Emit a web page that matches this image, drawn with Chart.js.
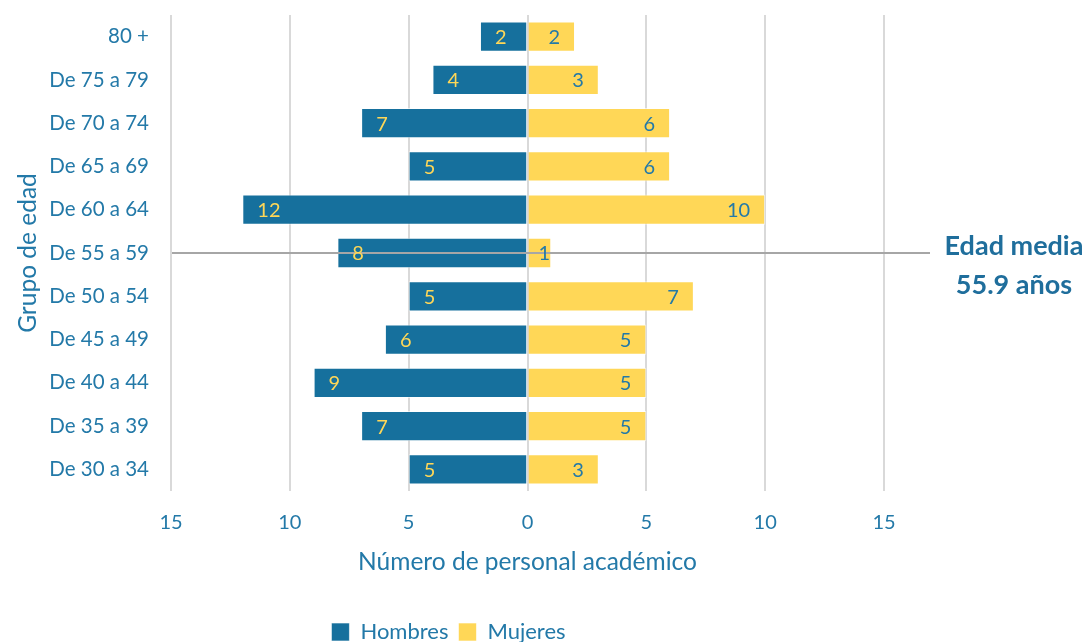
<!DOCTYPE html>
<html><head><meta charset="utf-8">
<script src="https://cdn.jsdelivr.net/npm/chart.js@4/dist/chart.umd.min.js"></script>
<style>html,body{margin:0;padding:0;background:#fff}#wrap{width:1089px;height:642px}</style>
</head><body><div id="wrap"><canvas id="c"></canvas></div>
<script>
const categories = ['80 +','De 75 a 79','De 70 a 74','De 65 a 69','De 60 a 64','De 55 a 59','De 50 a 54','De 45 a 49','De 40 a 44','De 35 a 39','De 30 a 34'];
const hombres = [2,4,7,5,12,8,5,6,9,7,5];
const mujeres = [2,3,6,6,10,1,7,5,5,5,3];
const meanCategory = 'De 55 a 59';
const meanText = ['Edad media','55.9 años'];
const xTicks = [-15,-10,-5,0,5,10,15];

const BLUE='#16709d', YELLOW='#ffd757', TXT='#2379a8', FONT='Lato, "Open Sans", sans-serif';

const overlay = {
  id:'overlay',
  afterDatasetsDraw(chart){
    const ctx=chart.ctx, x=chart.scales.x, y=chart.scales.y;
    ctx.save();
    const yy = Math.round(y.getPixelForValue(categories.indexOf(meanCategory)));
    ctx.strokeStyle='#a6a6a6'; ctx.lineWidth=2;
    ctx.beginPath(); ctx.moveTo(x.getPixelForValue(-15)+1, yy); ctx.lineTo(930, yy); ctx.stroke();
    ctx.font='20px '+FONT; ctx.textBaseline='middle';
    chart.data.datasets.forEach((ds,di)=>{
      const meta=chart.getDatasetMeta(di);
      meta.data.forEach((bar,i)=>{
        const v=Math.abs(ds.data[i]); const t=String(v);
        const tw=ctx.measureText(t).width; const pad=15;
        const x0=x.getPixelForValue(0), xe=bar.x;
        const w=Math.abs(xe-x0);
        ctx.fillStyle = di===0 ? YELLOW : TXT;
        if (w < tw + 2*pad) { ctx.textAlign='center'; ctx.fillText(t,(x0+xe)/2 + (di===0?0:5),bar.y+1); }
        else if (di===0){ ctx.textAlign='left'; ctx.fillText(t, xe+pad, bar.y+1); }
        else { ctx.textAlign='right'; ctx.fillText(t, xe-pad, bar.y+1); }
      });
    });
    ctx.fillStyle='#1f6e9c'; ctx.font='bold 27px '+FONT; ctx.textAlign='center';
    ctx.fillText(meanText[0], 1014, 246);
    ctx.fillText(meanText[1], 1014, 285);
    ctx.restore();
  }
};

new Chart(document.getElementById('c'), {
  type:'bar',
  data:{ labels:categories, datasets:[
    {label:'Hombres', data:hombres.map(v=>-v), backgroundColor:BLUE, borderColor:'rgba(255,255,255,0.6)', borderWidth:1, barPercentage:0.7, categoryPercentage:1},
    {label:'Mujeres', data:mujeres, backgroundColor:YELLOW, borderColor:'rgba(255,255,255,0.6)', borderWidth:1, barPercentage:0.7, categoryPercentage:1}
  ]},
  options:{
    indexAxis:'y', responsive:true, maintainAspectRatio:false, animation:false,
    layout:{padding:{left:13,right:205,top:15,bottom:-11}},
    scales:{
      x:{ stacked:true, min:-15, max:15,
        afterBuildTicks(s){ s.ticks = xTicks.map(v=>({value:v})); },
        afterFit(s){ s.height = 120; s.paddingLeft = 0; s.paddingRight = 0; },
        grid:{color:'#d9d9d9', lineWidth:2, drawTicks:false}, border:{display:false},
        ticks:{ callback:v=>Math.abs(v), color:TXT, font:{family:FONT,size:20}, padding:20 },
        title:{display:true, text:'Número de personal académico', color:TXT, font:{family:FONT,size:24.5}, padding:{top:0,bottom:34}}
      },
      y:{ stacked:true,
        afterFit(s){ s.width = 158; s.paddingTop = 0; s.paddingBottom = 0; },
        grid:{display:false, drawTicks:false}, border:{display:false},
        ticks:{ color:TXT, font:{family:FONT,size:20.5}, padding:22 },
        title:{display:true, text:'Grupo de edad', color:TXT, font:{family:FONT,size:24.5}, padding:0}
      }
    },
    plugins:{
      legend:{ position:'bottom', labels:{ color:TXT, font:{family:FONT,size:22}, boxWidth:18, boxHeight:18, padding:10 } },
      tooltip:{enabled:false}
    }
  },
  plugins:[overlay]
});
</script></body></html>
